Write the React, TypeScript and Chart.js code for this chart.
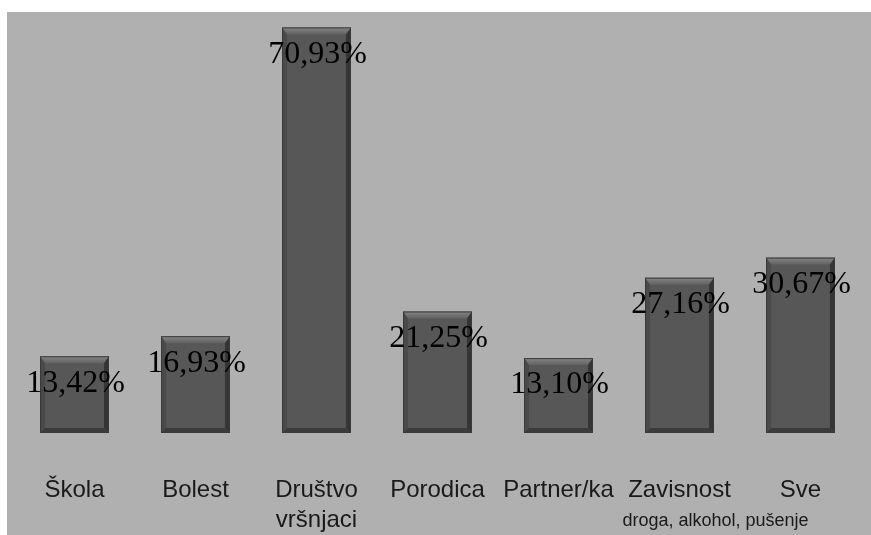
import React, { useEffect, useRef } from "react";
import { Chart, registerables } from "chart.js";

Chart.register(...registerables);

const CATEGORIES: (string | string[])[] = [
  "Škola",
  "Bolest",
  ["Društvo", "vršnjaci"],
  "Porodica",
  "Partner/ka",
  "Zavisnost",
  "Sve",
];
const VALUES: number[] = [13.42, 16.93, 70.93, 21.25, 13.1, 27.16, 30.67];
const SUB_NOTES: string[] = ["", "", "", "", "", "droga, alkohol, pušenje", ""];

const fmt = (v: number) => v.toFixed(2).replace(".", ",") + "%";

const backgroundPlugin = {
  id: "bgPanel",
  beforeDraw(chart: any) {
    const { ctx, width, height } = chart;
    ctx.save();
    ctx.fillStyle = "#ffffff";
    ctx.fillRect(0, 0, width, height);
    ctx.fillStyle = "#b0b0b0";
    ctx.fillRect(7, 12, width - 7, height - 12);
    ctx.restore();
  },
};

const bevelPlugin = {
  id: "bevel",
  afterDatasetsDraw(chart: any) {
    const { ctx } = chart;
    const meta = chart.getDatasetMeta(0);
    ctx.save();
    meta.data.forEach((bar: any) => {
      const { x, y, base, width } = bar.getProps(["x", "y", "base", "width"], true);
      const l = x - width / 2;
      const r = x + width / 2;
      const t = y;
      const b = base;
      const e = 5;
      const g = ctx.createLinearGradient(0, t, 0, t + e + 2);
      g.addColorStop(0, "#858585");
      g.addColorStop(1, "#626262");
      ctx.fillStyle = g;
      ctx.beginPath();
      ctx.moveTo(l, t);
      ctx.lineTo(r, t);
      ctx.lineTo(r - e, t + e + 2);
      ctx.lineTo(l + e, t + e + 2);
      ctx.closePath();
      ctx.fill();
      ctx.fillStyle = "#353535";
      ctx.beginPath();
      ctx.moveTo(r, t);
      ctx.lineTo(r, b);
      ctx.lineTo(r - e, b - e);
      ctx.lineTo(r - e, t + e + 2);
      ctx.closePath();
      ctx.fill();
      ctx.fillStyle = "#4a4a4a";
      ctx.beginPath();
      ctx.moveTo(l, t);
      ctx.lineTo(l, b);
      ctx.lineTo(l + e, b - e);
      ctx.lineTo(l + e, t + e + 2);
      ctx.closePath();
      ctx.fill();
      ctx.fillStyle = "#3b3b3b";
      ctx.beginPath();
      ctx.moveTo(l, b);
      ctx.lineTo(r, b);
      ctx.lineTo(r - e, b - e);
      ctx.lineTo(l + e, b - e);
      ctx.closePath();
      ctx.fill();
      ctx.strokeStyle = "#3a3a3a";
      ctx.lineWidth = 1;
      ctx.strokeRect(l + 0.5, t + 0.5, width - 1, b - t - 1);
    });
    ctx.restore();
  },
};

const labelsPlugin = {
  id: "valueLabels",
  afterDatasetsDraw(chart: any) {
    const { ctx } = chart;
    const meta = chart.getDatasetMeta(0);
    ctx.save();
    ctx.font = "32px 'Liberation Serif', 'DejaVu Serif', serif";
    ctx.fillStyle = "#000000";
    ctx.textAlign = "center";
    ctx.textBaseline = "middle";
    meta.data.forEach((bar: any, i: number) => {
      const { x, y } = bar.getProps(["x", "y"], true);
      ctx.fillText(fmt(VALUES[i]), x + 1, y + 27);
    });
    const xs = chart.scales.x;
    ctx.font = "18px 'Liberation Sans', Arial, sans-serif";
    ctx.fillStyle = "#1a1a1a";
    SUB_NOTES.forEach((note, i) => {
      if (!note) return;
      ctx.fillText(note, xs.getPixelForValue(i) + 36, xs.top + 88);
    });
    ctx.restore();
  },
};

export default function App() {
  const canvasRef = useRef<HTMLCanvasElement | null>(null);

  useEffect(() => {
    if (!canvasRef.current) return;
    const chart = new Chart(canvasRef.current, {
      type: "bar",
      data: {
        labels: CATEGORIES,
        datasets: [
          {
            data: VALUES,
            backgroundColor: "#575757",
            borderWidth: 0,
            categoryPercentage: 1,
            barPercentage: 0.57,
          },
        ],
      },
      options: {
        animation: false,
        responsive: true,
        maintainAspectRatio: false,
        layout: { padding: { top: 27, left: 14, right: 10, bottom: 0 } },
        plugins: {
          legend: { display: false },
          tooltip: { enabled: false },
          title: { display: false },
        },
        scales: {
          x: {
            grid: { display: false },
            border: { display: false },
            afterFit: (scale: any) => {
              scale.height = 102;
            },
            ticks: {
              color: "#1a1a1a",
              padding: 34,
              maxRotation: 0,
              autoSkip: false,
              font: { family: "'Liberation Sans', Arial, sans-serif", size: 24, lineHeight: 1.25 },
            },
          },
          y: {
            display: false,
            min: 0,
            max: 71,
          },
        },
      },
      plugins: [backgroundPlugin, bevelPlugin, labelsPlugin],
    });
    return () => chart.destroy();
  }, []);

  return (
    <div style={{ position: "absolute", left: 0, top: 0, width: 871, height: 535 }}>
      <canvas ref={canvasRef} />
    </div>
  );
}
